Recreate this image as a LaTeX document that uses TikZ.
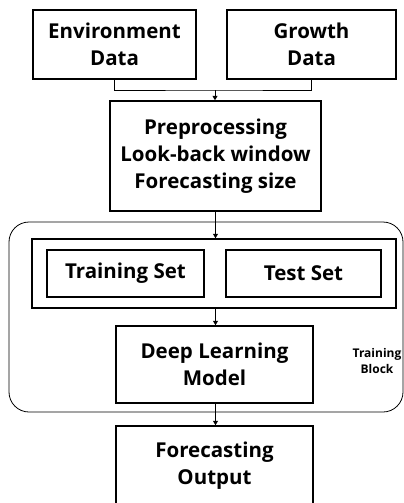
\documentclass[tikz,border=0pt]{standalone}
\usepackage{fontspec}
\setmainfont{Open Sans}
\usetikzlibrary{arrows.meta}
\begin{document}
\begin{tikzpicture}[x=1pt,y=-1pt,
  box/.style={draw,line width=1.5pt,rectangle,inner sep=0pt,align=center,font=\fontsize{20.5}{27}\selectfont\bfseries},
  conn/.style={line width=1pt},
  arr/.style={line width=1pt,-{Triangle[length=4.5pt,width=5pt]}},
  blk/.style={draw,line width=0.8pt,rounded corners=20pt}]
\useasboundingbox (0,0) rectangle (404,503);
\node[box,minimum width=163pt,minimum height=69pt] (env) at (114.5,44.5) {Environment\\Data};
\node[box,minimum width=169pt,minimum height=69pt] (gro) at (311.5,44.5) {Growth\\Data};
\node[box,minimum width=211pt,minimum height=110pt] (pre) at (215.5,156) {Preprocessing\\Look-back window\\Forecasting size};
\draw[blk] (9,222) rectangle (403,412);
\node[box,minimum width=364pt,minimum height=69pt] (cont) at (214,273.5) {};
\node[box,minimum width=157pt,minimum height=47pt] (train) at (125.5,273.5) {Training Set};
\node[box,minimum width=155pt,minimum height=47pt] (test) at (303.5,273.5) {Test Set};
\node[box,minimum width=197pt,minimum height=77pt] (dl) at (214.5,364.5) {Deep Learning\\Model};
\node[box,minimum width=197pt,minimum height=80pt] (fc) at (214.5,466) {Forecasting\\Output};
\node[font=\fontsize{12}{16}\selectfont\bfseries,align=center] (lbl) at (377,361) {Training\\Block};
\coordinate (m) at (215,90);
\draw[conn] (env.south) |- (m) -| (gro.south);
\draw[arr] (m) -- (m |- pre.north);
\draw[arr] (pre.south) -- (pre.south |- cont.north);
\draw[arr] (cont.south -| pre.south) -- (pre.south |- dl.north);
\draw[arr] (dl.south -| pre.south) -- (pre.south |- fc.north);
\end{tikzpicture}
\end{document}
